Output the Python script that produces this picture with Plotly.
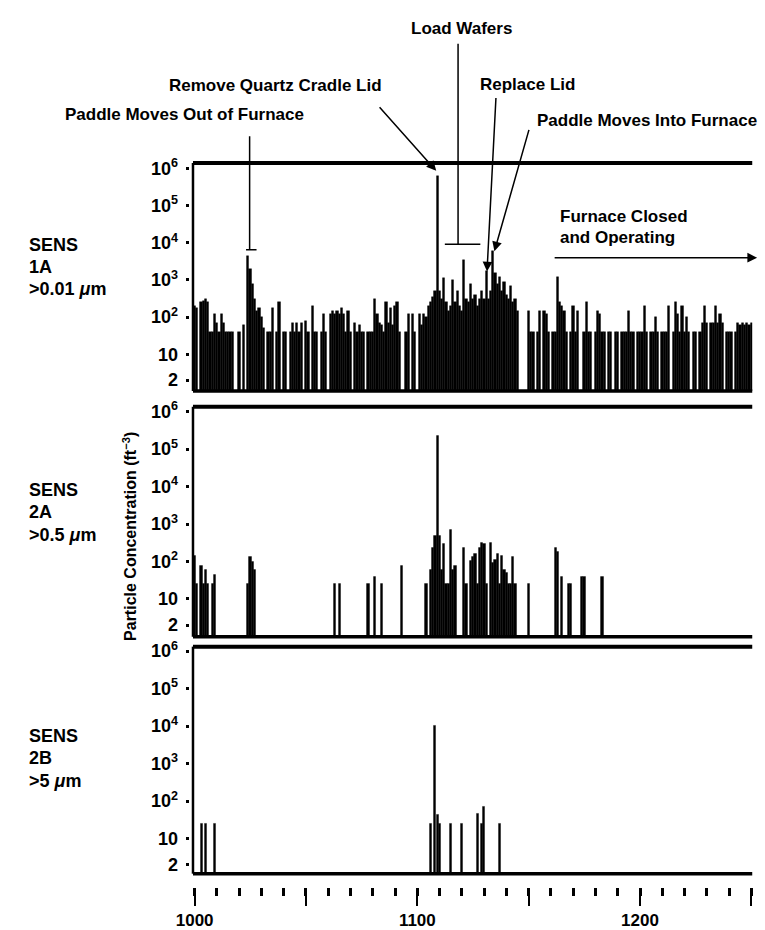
import plotly.graph_objects as go

# ---------------- data ----------------
# SENS 1A (>0.01 um): one reading per minute from t = 1000 to 1250 (0 = no count)
t_start_1a = 1000
sens_1a = [
    200, 180, 0, 250, 280, 300, 250, 40, 40, 120,
    70, 40, 120, 70, 40, 40, 40, 40, 0, 0,
    40, 0, 60, 0, 4500, 2000, 800, 300, 150, 180,
    100, 50, 0, 40, 40, 180, 0, 40, 250, 0,
    40, 40, 0, 40, 70, 40, 70, 40, 70, 0,
    80, 40, 0, 200, 40, 40, 0, 40, 120, 40,
    0, 120, 150, 120, 150, 120, 180, 120, 40, 150,
    40, 0, 70, 40, 60, 40, 40, 0, 40, 40,
    40, 300, 120, 70, 60, 40, 250, 70, 180, 60,
    200, 250, 40, 0, 0, 40, 120, 0, 120, 40,
    0, 120, 60, 120, 100, 200, 250, 350, 500, 650000,
    500, 300, 1100, 250, 150, 200, 1000, 250, 500, 200,
    150, 3500, 300, 250, 800, 300, 400, 200, 300, 500,
    300, 1700, 300, 500, 6000, 1500, 800, 1200, 500, 900,
    400, 300, 700, 250, 300, 150, 0, 0, 0, 0,
    150, 40, 40, 0, 40, 150, 0, 150, 120, 40,
    0, 40, 40, 1200, 250, 200, 150, 40, 0, 40,
    200, 40, 150, 0, 0, 40, 250, 40, 40, 0,
    40, 150, 120, 40, 40, 0, 40, 40, 0, 40,
    40, 0, 40, 40, 40, 150, 40, 40, 0, 40,
    40, 40, 200, 40, 0, 40, 40, 100, 40, 0,
    40, 40, 40, 200, 0, 40, 250, 120, 40, 200,
    40, 100, 40, 0, 40, 40, 0, 40, 70, 200,
    70, 0, 70, 70, 200, 70, 120, 70, 0, 40,
    40, 40, 0, 40, 70, 60, 70, 60, 70, 60,
    70,
]

# SENS 2A (>0.5 um): sparse readings
t_2a = [1000, 1001, 1003, 1004, 1005, 1006, 1008, 1009,
        1024, 1025, 1026, 1027, 1063, 1065, 1078, 1081, 1084, 1093, 1104,
        1106, 1107, 1108, 1109, 1110, 1111, 1112, 1113, 1114, 1115, 1116, 1117,
        1121, 1122, 1124, 1125, 1126, 1127, 1128, 1129, 1130, 1131,
        1133, 1134, 1135, 1136, 1137, 1138, 1139, 1140, 1141, 1142, 1143, 1144,
        1150, 1162, 1163, 1165, 1168, 1169, 1174, 1175, 1183]
c_2a = [140, 25, 75, 25, 60, 25, 25, 45,
        25, 130, 100, 60, 25, 25, 25, 40, 25, 75, 25,
        60, 230, 480, 230000, 500, 60, 290, 25, 25, 720, 60, 75,
        230, 25, 105, 130, 160, 25, 230, 320, 290, 25,
        320, 90, 110, 160, 25, 140, 60, 50, 25, 25, 130, 25,
        25, 230, 180, 40, 25, 25, 40, 40, 40]

# SENS 2B (>5 um): sparse readings
t_2b = [1003, 1005, 1009, 1106, 1108, 1109, 1110, 1115, 1120, 1127, 1129, 1130, 1137]
c_2b = [25, 25, 25, 25, 10500, 42, 25, 25, 25, 45, 25, 72, 25]

# axis ticks
y_tickvals = [2, 10, 100, 1e3, 1e4, 1e5, 1e6]
y_ticktext = ["2", "10", "10<sup>2</sup>", "10<sup>3</sup>", "10<sup>4</sup>",
              "10<sup>5</sup>", "10<sup>6</sup>"]
x_major = [1000, 1050, 1100, 1150, 1200, 1250]
x_labels = [1000, 1100, 1200]

# ---------------- figure ----------------
W, H = 765, 930
FONT = "Liberation Sans"


def fx(p):
    return p / W


def fy(p):
    return 1 - p / H


X_RANGE = [997.8, 1250.4]
X_DOMAIN = [fx(179), fx(752)]
panels = [  # (y domain top px, bottom px, log range)
    (157, 388, [0.01, 6.15]),
    (404, 637, [-0.01, 6.13]),
    (647, 877, [0.06, 6.12]),
]

t_1a = [t_start_1a + i for i in range(len(sens_1a))]
v_1a = [v if v > 0 else None for v in sens_1a]

BAR = dict(color="black", line=dict(width=0.4, color="black"))
fig = go.Figure()
fig.add_trace(go.Bar(x=t_1a, y=v_1a, width=1.0, marker=BAR,
                     xaxis="x", yaxis="y", showlegend=False))
fig.add_trace(go.Bar(x=t_2a, y=c_2a, width=1.0, marker=BAR,
                     xaxis="x2", yaxis="y2", showlegend=False))
fig.add_trace(go.Bar(x=t_2b, y=c_2b, width=0.85, marker=BAR,
                     xaxis="x3", yaxis="y3", showlegend=False))
# carriers for the time axes drawn below the last panel
fig.add_trace(go.Scatter(x=[None], y=[None], xaxis="x4", yaxis="y3", showlegend=False, hoverinfo="skip"))
fig.add_trace(go.Scatter(x=[None], y=[None], xaxis="x5", yaxis="y3", showlegend=False, hoverinfo="skip"))

layout = dict(
    width=W, height=H, margin=dict(l=0, r=0, t=0, b=0),
    paper_bgcolor="white", plot_bgcolor="white",
    bargap=0, barmode="overlay",
    font=dict(family=FONT, color="black"),
)

shapes = []
for i, (top, bot, yr) in enumerate(panels, start=1):
    sfx = "" if i == 1 else str(i)
    layout["xaxis" + sfx] = dict(domain=X_DOMAIN, range=X_RANGE, anchor="y" + sfx,
                                 showticklabels=False, ticks="", showline=False,
                                 showgrid=False, zeroline=False, fixedrange=True)
    layout["yaxis" + sfx] = dict(domain=[fy(bot), fy(top)], type="log", range=yr,
                                 anchor="x" + sfx, tickvals=y_tickvals, ticktext=y_ticktext,
                                 ticks="outside", ticklen=3, tickwidth=3, tickcolor="black",
                                 ticklabelstandoff=4,
                                 tickfont=dict(family=FONT, size=18, color="black", weight="bold"),
                                 showline=False, showgrid=False, zeroline=False, fixedrange=True)
    xd, yd = "x" + sfx + " domain", "y" + sfx + " domain"
    left = 0.0058
    shapes.append(dict(type="line", xref=xd, yref=yd, x0=left, x1=1, y0=1, y1=1,
                       line=dict(color="black", width=4)))
    shapes.append(dict(type="line", xref=xd, yref=yd, x0=left, x1=1, y0=0, y1=0,
                       line=dict(color="black", width=3.5)))
    shapes.append(dict(type="line", xref=xd, yref=yd, x0=left, x1=left, y0=0, y1=1,
                       line=dict(color="black", width=2.5)))

# time axis: long ticks every 50 with short ticks every 10 ...
layout["xaxis4"] = dict(overlaying="x3", anchor="free", position=fy(890), range=X_RANGE,
                        domain=X_DOMAIN, tickvals=x_major, showticklabels=False,
                        ticks="outside", ticklen=18, tickwidth=2, tickcolor="black",
                        minor=dict(tick0=1000, dtick=10, ticks="outside", ticklen=8,
                                   tickwidth=2.5, tickcolor="black"),
                        showline=False, showgrid=False, zeroline=False, fixedrange=True)
# ... and labels every 100
layout["xaxis5"] = dict(overlaying="x3", anchor="free", position=fy(890), range=X_RANGE,
                        domain=X_DOMAIN, tickvals=x_labels, ticktext=[str(v) for v in x_labels],
                        ticks="outside", ticklen=18, tickwidth=2, tickcolor="black",
                        tickfont=dict(family=FONT, size=17, color="black", weight="bold"),
                        showline=False, showgrid=False, zeroline=False, fixedrange=True)

TXT = dict(family=FONT, size=17, color="black", weight="bold")


def label(text, x, y, **kw):
    d = dict(text=text, x=fx(x), y=fy(y), xref="paper", yref="paper", showarrow=False,
             font=TXT, xanchor="center", yanchor="middle")
    d.update(kw)
    return d


def pointer(x, y, ax, ay, head=2, xref="x", yref="y"):
    return dict(text="", x=x, y=y, xref=xref, yref=yref, ax=ax, ay=ay, showarrow=True,
                arrowhead=head, arrowsize=1.3, arrowwidth=1.5, arrowcolor="black",
                standoff=0, startstandoff=0)


SIDE = dict(family=FONT, size=18, color="black", weight="bold")
sensor_lines = [
    ("SENS", 240), ("1A", 262), ("&gt;0.01 <i>μ</i>m", 285),
    ("SENS", 488), ("2A", 511), ("&gt;0.5 <i>μ</i>m", 534),
    ("SENS", 738), ("2B", 760), ("&gt;5 <i>μ</i>m", 783),
]

annotations = [
    label("Paddle Moves Out of Furnace", 174, 108),
    label("Remove Quartz Cradle Lid", 266, 79),
    label("Load Wafers", 456, 21),
    label("Replace Lid", 523, 78),
    label("Paddle Moves Into Furnace", 645, 114),
    label("Furnace Closed", 554, 211, xanchor="left"),
    label("and Operating", 554, 233, xanchor="left"),
    label("Particle Concentration (ft<sup>−3</sup>)", 118, 535, textangle=-90,
          font=dict(family=FONT, size=16, color="black", weight="bold")),
    # event markers over the SENS 1A record
    pointer(1024.7, 3.81, 0, -115, head=0),
    pointer(1027.8, 3.81, -12, 0, head=0),
    pointer(1108.5, 5.94, -58, -65),
    pointer(1118.3, 3.96, 0, -202, head=0),
    pointer(1128.3, 3.96, -37, 0, head=0),
    pointer(1131.3, 3.23, 9, -175),
    pointer(1134.6, 3.77, 35, -123),
    pointer(fx(757), fy(253), -204, 0, xref="paper", yref="paper"),
]
annotations += [label(t, 13, y, xanchor="left", font=SIDE) for t, y in sensor_lines]

layout["shapes"] = shapes
layout["annotations"] = annotations
fig.update_layout(**layout)

fig.write_html("out.html")
